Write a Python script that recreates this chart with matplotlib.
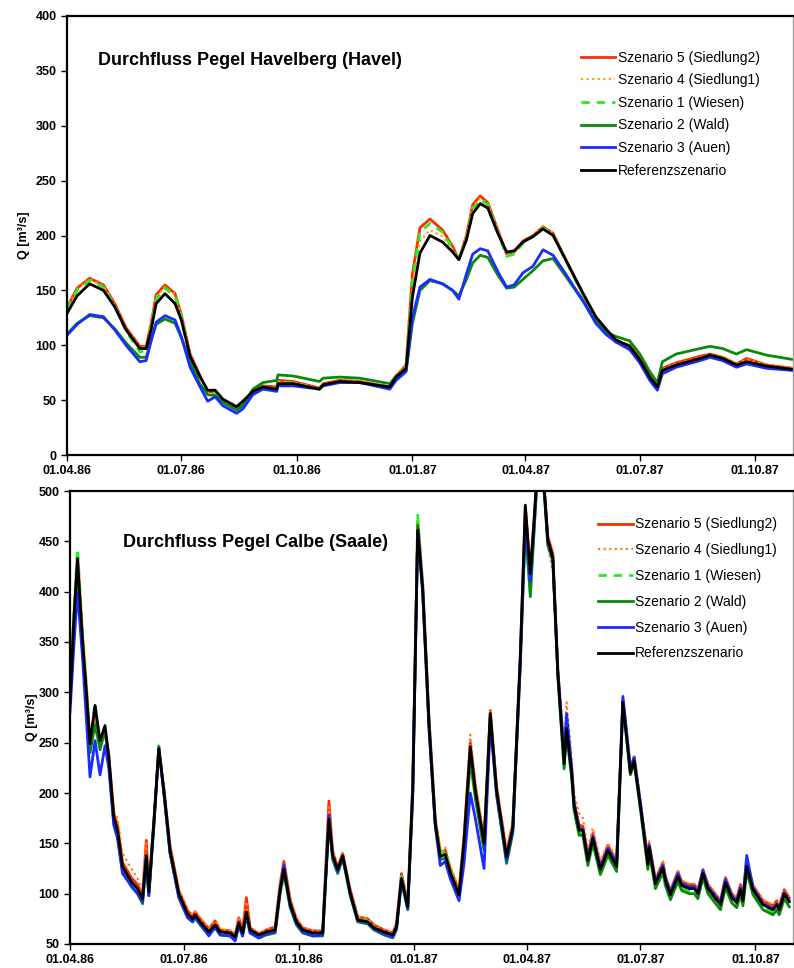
import numpy as np
import matplotlib
matplotlib.use("Agg")
import matplotlib.pyplot as plt
import matplotlib.dates as mdates

plt.rcParams['font.family'] = ['Liberation Sans', 'DejaVu Sans']

START = np.datetime64('1986-04-01')

# --- Havelberg (Havel): days since 01.04.86
hav_days = [0, 8, 18, 29, 38, 47, 58, 63, 67, 71,
            78, 86, 91, 98, 106, 112, 118, 124, 135, 140,
            148, 156, 167, 168, 180, 201, 204, 217, 233, 257,
            262, 270, 275, 281, 289, 299, 307, 312, 318, 323,
            329, 335, 343, 350, 356, 363, 371, 379, 387, 397,
            411, 421, 429, 437, 448, 456, 464, 470, 474, 485,
            504, 512, 522, 533, 541, 557, 578]

hav_s5 = [134, 152, 161, 155, 138, 116, 99, 99, 120, 146,
          155, 147, 128, 92, 72, 58, 57, 50, 43, 47,
          57, 63, 62, 68, 67, 61, 65, 68, 67, 62,
          72, 82, 165, 207, 215, 205, 190, 178, 200, 228,
          236, 230, 205, 183, 185, 195, 200, 208, 202, 178,
          146, 124, 113, 103, 100, 88, 72, 63, 79, 84,
          90, 92, 89, 83, 88, 82, 79]
hav_s4 = [133, 151, 160, 154, 137, 115, 98, 98, 118, 144,
          153, 146, 127, 91, 71, 58, 57, 50, 43, 47,
          57, 62, 61, 67, 66, 61, 64, 68, 67, 62,
          72, 81, 155, 195, 205, 199, 187, 178, 199, 226,
          234, 229, 204, 182, 184, 194, 200, 208, 202, 178,
          146, 124, 113, 104, 100, 88, 72, 63, 78, 83,
          89, 92, 89, 83, 87, 82, 79]
hav_s1 = [133, 150, 159, 153, 136, 113, 94, 95, 117, 142,
          152, 145, 126, 89, 69, 57, 56, 49, 41, 46,
          56, 62, 61, 66, 66, 60, 64, 67, 66, 62,
          71, 80, 160, 203, 211, 203, 188, 178, 198, 224,
          233, 228, 203, 181, 183, 193, 199, 207, 201, 177,
          145, 123, 112, 103, 99, 87, 71, 62, 77, 82,
          88, 91, 88, 82, 85, 81, 78]
hav_s2 = [110, 120, 127, 125, 115, 102, 89, 89, 105, 119,
          124, 120, 107, 85, 64, 55, 54, 48, 41, 45,
          60, 66, 68, 73, 72, 67, 70, 71, 70, 65,
          72, 77, 120, 150, 159, 156, 150, 145, 160, 175,
          182, 180, 164, 152, 153, 160, 168, 177, 179, 163,
          140, 122, 112, 108, 104, 92, 76, 66, 85, 92,
          97, 99, 97, 92, 96, 91, 87]
hav_s3 = [109, 119, 128, 126, 114, 100, 85, 86, 104, 121,
          127, 123, 108, 80, 62, 49, 53, 45, 38, 42,
          55, 60, 58, 63, 63, 60, 63, 66, 66, 60,
          68, 76, 125, 153, 160, 156, 150, 142, 165, 183,
          188, 186, 167, 153, 155, 166, 172, 187, 182, 165,
          140, 120, 110, 103, 96, 84, 68, 59, 74, 80,
          86, 89, 86, 80, 83, 79, 77]
hav_ref = [129, 145, 156, 150, 135, 114, 97, 97, 114, 138,
           147, 138, 123, 90, 71, 59, 59, 51, 44, 49,
           58, 62, 60, 65, 65, 60, 64, 67, 66, 62,
           71, 79, 144, 184, 200, 194, 185, 178, 196, 220,
           229, 225, 202, 185, 186, 194, 199, 206, 200, 178,
           147, 126, 115, 105, 99, 87, 71, 62, 77, 82,
           88, 91, 88, 82, 85, 81, 78]

# --- Calbe (Saale)
cal_days = [0, 3, 6, 10, 13, 16, 20, 24, 28, 31,
            35, 38, 42, 49, 54, 58, 61, 63, 67, 71,
            75, 80, 87, 94, 98, 100, 104, 111, 116, 120,
            128, 132, 135, 138, 141, 144, 151, 157, 164, 168,
            171, 176, 181, 186, 194, 202, 207, 210, 214, 218,
            224, 230, 238, 243, 251, 258, 261, 265, 270, 274,
            278, 282, 287, 292, 296, 300, 304, 311, 315, 320,
            324, 331, 336, 341, 349, 354, 360, 364, 368, 371,
            375, 379, 382, 386, 390, 395, 397, 401, 403, 407,
            410, 414, 418, 424, 430, 437, 442, 448, 451, 456,
            462, 463, 468, 474, 476, 480, 486, 489, 495, 499,
            502, 506, 510, 520, 524, 529, 533, 536, 538, 541,
            546, 554, 562, 565, 567, 571, 575]

cal_s5 = [292, 375, 436, 356, 305, 252, 280, 250, 262, 238,
          180, 168, 131, 116, 109, 99, 153, 106, 172, 243,
          205, 147, 103, 83, 78, 82, 75, 65, 73, 64,
          63, 59, 76, 63, 96, 66, 60, 64, 67, 110,
          132, 94, 75, 66, 63, 63, 192, 142, 126, 140,
          104, 77, 75, 69, 64, 61, 70, 120, 90, 210,
          470, 408, 274, 174, 141, 143, 125, 103, 156, 250,
          207, 153, 282, 206, 140, 169, 338, 484, 420, 472,
          550, 505, 455, 438, 322, 233, 270, 224, 192, 168,
          167, 138, 160, 128, 148, 132, 292, 223, 236, 190,
          134, 150, 114, 131, 117, 103, 122, 112, 109, 109,
          104, 124, 109, 93, 116, 100, 95, 109, 97, 133,
          108, 93, 88, 93, 88, 104, 96]
cal_s4 = [291, 372, 430, 355, 306, 255, 275, 248, 262, 240,
          182, 175, 140, 125, 115, 103, 150, 108, 172, 242,
          206, 148, 104, 84, 79, 82, 76, 66, 73, 65,
          63, 60, 75, 63, 92, 66, 61, 64, 67, 108,
          128, 93, 75, 67, 63, 63, 186, 141, 126, 140,
          104, 77, 75, 69, 64, 61, 70, 119, 90, 208,
          468, 408, 276, 178, 145, 146, 128, 104, 158, 258,
          210, 157, 281, 210, 145, 172, 336, 480, 415, 470,
          548, 500, 445, 420, 330, 245, 290, 235, 200, 180,
          175, 145, 165, 133, 150, 135, 288, 225, 238, 193,
          136, 152, 116, 132, 118, 104, 123, 113, 110, 110,
          105, 124, 110, 94, 116, 101, 96, 108, 98, 130,
          109, 94, 89, 93, 89, 104, 97]
cal_s1 = [295, 380, 443, 360, 310, 245, 290, 248, 265, 232,
          172, 160, 124, 110, 103, 93, 140, 100, 168, 247,
          202, 141, 98, 79, 74, 78, 71, 61, 68, 61,
          60, 56, 70, 60, 80, 63, 58, 61, 63, 102,
          122, 88, 71, 63, 60, 60, 176, 137, 122, 137,
          100, 75, 73, 67, 61, 58, 66, 117, 86, 205,
          476, 405, 270, 172, 140, 143, 124, 97, 150, 238,
          200, 148, 281, 200, 133, 163, 330, 468, 400, 462,
          545, 500, 450, 432, 318, 226, 262, 218, 184, 160,
          160, 130, 152, 121, 140, 124, 292, 222, 234, 185,
          126, 144, 107, 124, 110, 96, 114, 105, 102, 102,
          97, 118, 102, 86, 108, 93, 88, 101, 90, 124,
          101, 86, 81, 86, 81, 97, 89]
cal_s2 = [288, 360, 418, 345, 298, 240, 268, 243, 262, 232,
          170, 157, 122, 107, 100, 90, 132, 98, 166, 246,
          200, 140, 97, 77, 72, 76, 69, 59, 66, 59,
          58, 54, 68, 58, 78, 61, 56, 59, 61, 100,
          120, 86, 69, 61, 58, 58, 170, 134, 120, 135,
          98, 72, 70, 64, 59, 56, 64, 112, 84, 200,
          466, 400, 266, 168, 134, 135, 118, 96, 145, 233,
          195, 143, 276, 198, 130, 160, 328, 465, 395, 460,
          545, 500, 446, 430, 316, 224, 258, 216, 183, 158,
          158, 128, 150, 119, 138, 122, 288, 218, 230, 184,
          124, 142, 105, 121, 108, 94, 112, 103, 100, 100,
          95, 116, 100, 84, 106, 91, 86, 99, 88, 122,
          99, 84, 79, 84, 79, 95, 87]
cal_s3 = [280, 345, 400, 335, 275, 216, 252, 218, 247, 225,
          168, 155, 120, 108, 100, 92, 137, 98, 168, 244,
          201, 140, 96, 76, 72, 77, 70, 58, 67, 59,
          58, 53, 69, 58, 80, 61, 56, 60, 62, 104,
          128, 88, 70, 62, 58, 59, 178, 136, 122, 137,
          100, 73, 71, 65, 60, 57, 65, 115, 85, 198,
          460, 398, 264, 168, 128, 132, 115, 93, 130, 200,
          175, 125, 270, 200, 133, 163, 330, 470, 410, 465,
          548, 503, 450, 433, 320, 240, 279, 226, 190, 165,
          164, 135, 157, 126, 145, 130, 296, 225, 235, 190,
          131, 148, 112, 128, 115, 101, 120, 110, 107, 107,
          102, 123, 107, 91, 114, 98, 93, 106, 95, 138,
          106, 90, 85, 90, 85, 101, 93]
cal_ref = [289, 370, 433, 352, 302, 249, 287, 252, 267, 236,
           176, 163, 127, 112, 105, 95, 138, 102, 170, 244,
           203, 143, 100, 80, 75, 79, 72, 62, 69, 62,
           61, 57, 71, 61, 82, 64, 59, 62, 64, 104,
           124, 90, 72, 64, 61, 61, 174, 138, 124, 138,
           101, 74, 72, 66, 62, 59, 67, 115, 87, 203,
           461, 402, 269, 170, 137, 139, 121, 99, 153, 246,
           203, 150, 279, 203, 137, 166, 335, 486, 418, 470,
           550, 505, 451, 434, 319, 229, 264, 220, 187, 163,
           163, 133, 155, 124, 143, 127, 290, 220, 232, 187,
           129, 146, 110, 126, 113, 99, 117, 108, 105, 105,
           100, 120, 105, 89, 111, 96, 91, 104, 93, 127,
           104, 89, 84, 89, 84, 100, 92]

labels = ['Szenario 5 (Siedlung2)', 'Szenario 4 (Siedlung1)', 'Szenario 1 (Wiesen)',
          'Szenario 2 (Wald)', 'Szenario 3 (Auen)', 'Referenzszenario']
tick_dates = ['1986-04-01', '1986-07-01', '1986-10-01', '1987-01-01',
              '1987-04-01', '1987-07-01', '1987-10-01']


def to_dates(days):
    return (START + np.array(days, dtype='timedelta64[D]')).astype('datetime64[D]')


def draw(ax, days, series, orange, title, ylim, yticks, title_xy, leg_pos, leg_space, lpad):
    x = to_dates(days)
    styles = [dict(color='#ff2a00', lw=2.0, ls='-'),
              dict(color=orange, lw=1.6, ls=(0, (1, 1.5))),
              dict(color='#22ee22', lw=2.0, ls=(0, (3, 2.5))),
              dict(color='#0a8a0a', lw=2.0, ls='-'),
              dict(color='#1a2cff', lw=2.0, ls='-'),
              dict(color='black', lw=2.0, ls='-')]
    for vals, lab, st in zip(series, labels, styles):
        ax.plot(x, vals, label=lab, **st)
    ax.set_xlim(START, START + np.timedelta64(578, 'D'))
    ax.set_ylim(*ylim)
    ax.set_yticks(yticks)
    ax.set_xticks([np.datetime64(d) for d in tick_dates])
    ax.xaxis.set_major_formatter(mdates.DateFormatter('%d.%m.%y'))
    ax.tick_params(direction='out', length=4, width=1, labelsize=9)
    for t in ax.get_xticklabels() + ax.get_yticklabels():
        t.set_fontweight('bold')
    ax.set_ylabel('Q [m³/s]', fontsize=9, fontweight='bold', labelpad=lpad)
    for s in ['left', 'bottom', 'top']:
        ax.spines[s].set_linewidth(1.6)
        ax.spines[s].set_color('black')
    ax.spines['right'].set_color('#a0a0a0')
    ax.spines['right'].set_linewidth(1.0)
    ax.text(title_xy[0], title_xy[1], title, transform=ax.transAxes,
            fontsize=13, fontweight='bold', va='center', ha='left')
    ax.legend(loc='upper left', bbox_to_anchor=leg_pos, frameon=False, fontsize=10,
              handlelength=2.5, handletextpad=0.15, labelspacing=leg_space,
              borderaxespad=0)


fig = plt.figure(figsize=(7.94, 9.68), dpi=100)
ax1 = fig.add_axes([67 / 794, 1 - 455 / 968, 726 / 794, 439 / 968])
ax2 = fig.add_axes([70 / 794, 1 - 944 / 968, 723 / 794, 453 / 968])

draw(ax1, hav_days, [hav_s5, hav_s4, hav_s1, hav_s2, hav_s3, hav_ref], '#ffa500',
     'Durchfluss Pegel Havelberg (Havel)', (0, 400), range(0, 401, 50),
     (0.043, 0.898), (0.70, 0.934), 0.62, 4)
draw(ax2, cal_days, [cal_s5, cal_s4, cal_s1, cal_s2, cal_s3, cal_ref], '#ff7f1a',
     'Durchfluss Pegel Calbe (Saale)', (50, 500), range(50, 501, 50),
     (0.073, 0.887), (0.723, 0.954), 0.85, 0)

fig.savefig('out.png', dpi=100)
